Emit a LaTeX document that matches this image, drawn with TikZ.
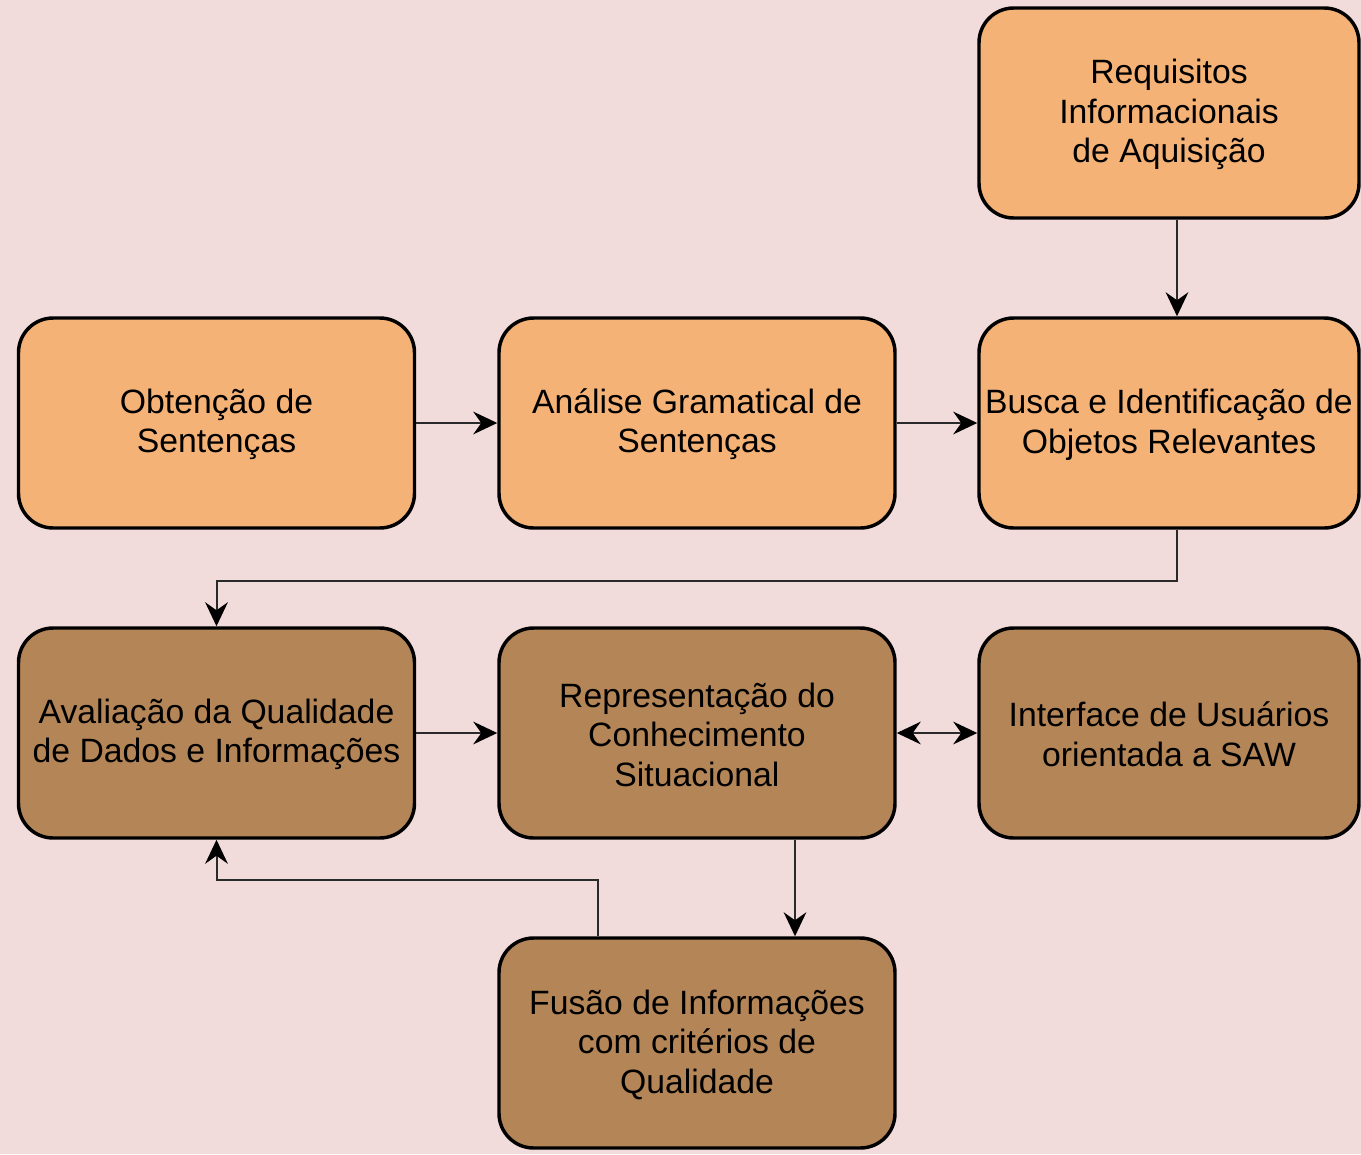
\documentclass[tikz,border=0pt]{standalone}
\usepackage{fontspec}
\setmainfont{Liberation Sans}
\usetikzlibrary{arrows.meta,calc}
\definecolor{bgpink}{HTML}{F2DCDB}
\definecolor{boxorange}{HTML}{F4B277}
\definecolor{boxbrown}{HTML}{B48557}
\definecolor{linegray}{HTML}{2A2A2A}
\begin{document}
\begin{tikzpicture}[x=0.75pt,y=-0.75pt,
  >={Stealth[length=18pt,width=17pt,inset=6pt,color=black]},
  boxbase/.style={draw=black, line width=2.6pt, rounded corners=26pt,
    minimum height=157.5pt, inner sep=0pt, align=center,
    font=\fontsize{25.3}{29.6}\selectfont},
  wide/.style={minimum width=297pt},
  narrow/.style={minimum width=285pt},
  orangebox/.style={boxbase, fill=boxorange},
  brownbox/.style={boxbase, fill=boxbrown},
  arr/.style={draw=linegray, line width=1.5pt, ->},
  darr/.style={draw=linegray, line width=1.5pt, <->}]
\fill[bgpink] (0,0) rectangle (1361,1154);
\useasboundingbox (0,0) rectangle (1361,1154);

\node[orangebox,narrow] (req) at (1169,113) {\strut Requisitos\\Informacionais\\de Aquisição};
\node[orangebox,wide] (obt) at (216.5,423) {\strut Obtenção de\\Sentenças};
\node[orangebox,wide] (ana) at (697,423) {\strut Análise Gramatical de\\Sentenças};
\node[orangebox,narrow] (bus) at (1169,423) {\strut Busca e Identificação de\\Objetos Relevantes};
\node[brownbox,wide] (ava) at (216.5,733) {\strut Avaliação da Qualidade\\de Dados e Informações};
\node[brownbox,wide] (rep) at (697,733) {\strut Representação do\\Conhecimento\\Situacional};
\node[brownbox,narrow] (int) at (1169,733) {\strut Interface de Usuários\\orientada a SAW};
\node[brownbox,wide] (fus) at (697,1043) {\strut Fusão de Informações\\com critérios de\\Qualidade};

\draw[arr] ([xshift=6pt]req.south) -- ([xshift=6pt]bus.north);
\draw[arr] (obt.east) -- (ana.west);
\draw[arr] (ana.east) -- (bus.west);
\draw[arr] ([xshift=6pt]bus.south) -- ++(0,51) -| (ava.north);
\draw[arr] (ava.east) -- (rep.west);
\draw[darr] (rep.east) -- (int.west);
\draw[arr] ([xshift=73.5pt]rep.south) -- ([xshift=73.5pt]fus.north);
\draw[arr] ([xshift=-74pt]fus.north) -- ++(0,-56) -| (ava.south);
\end{tikzpicture}
\end{document}
